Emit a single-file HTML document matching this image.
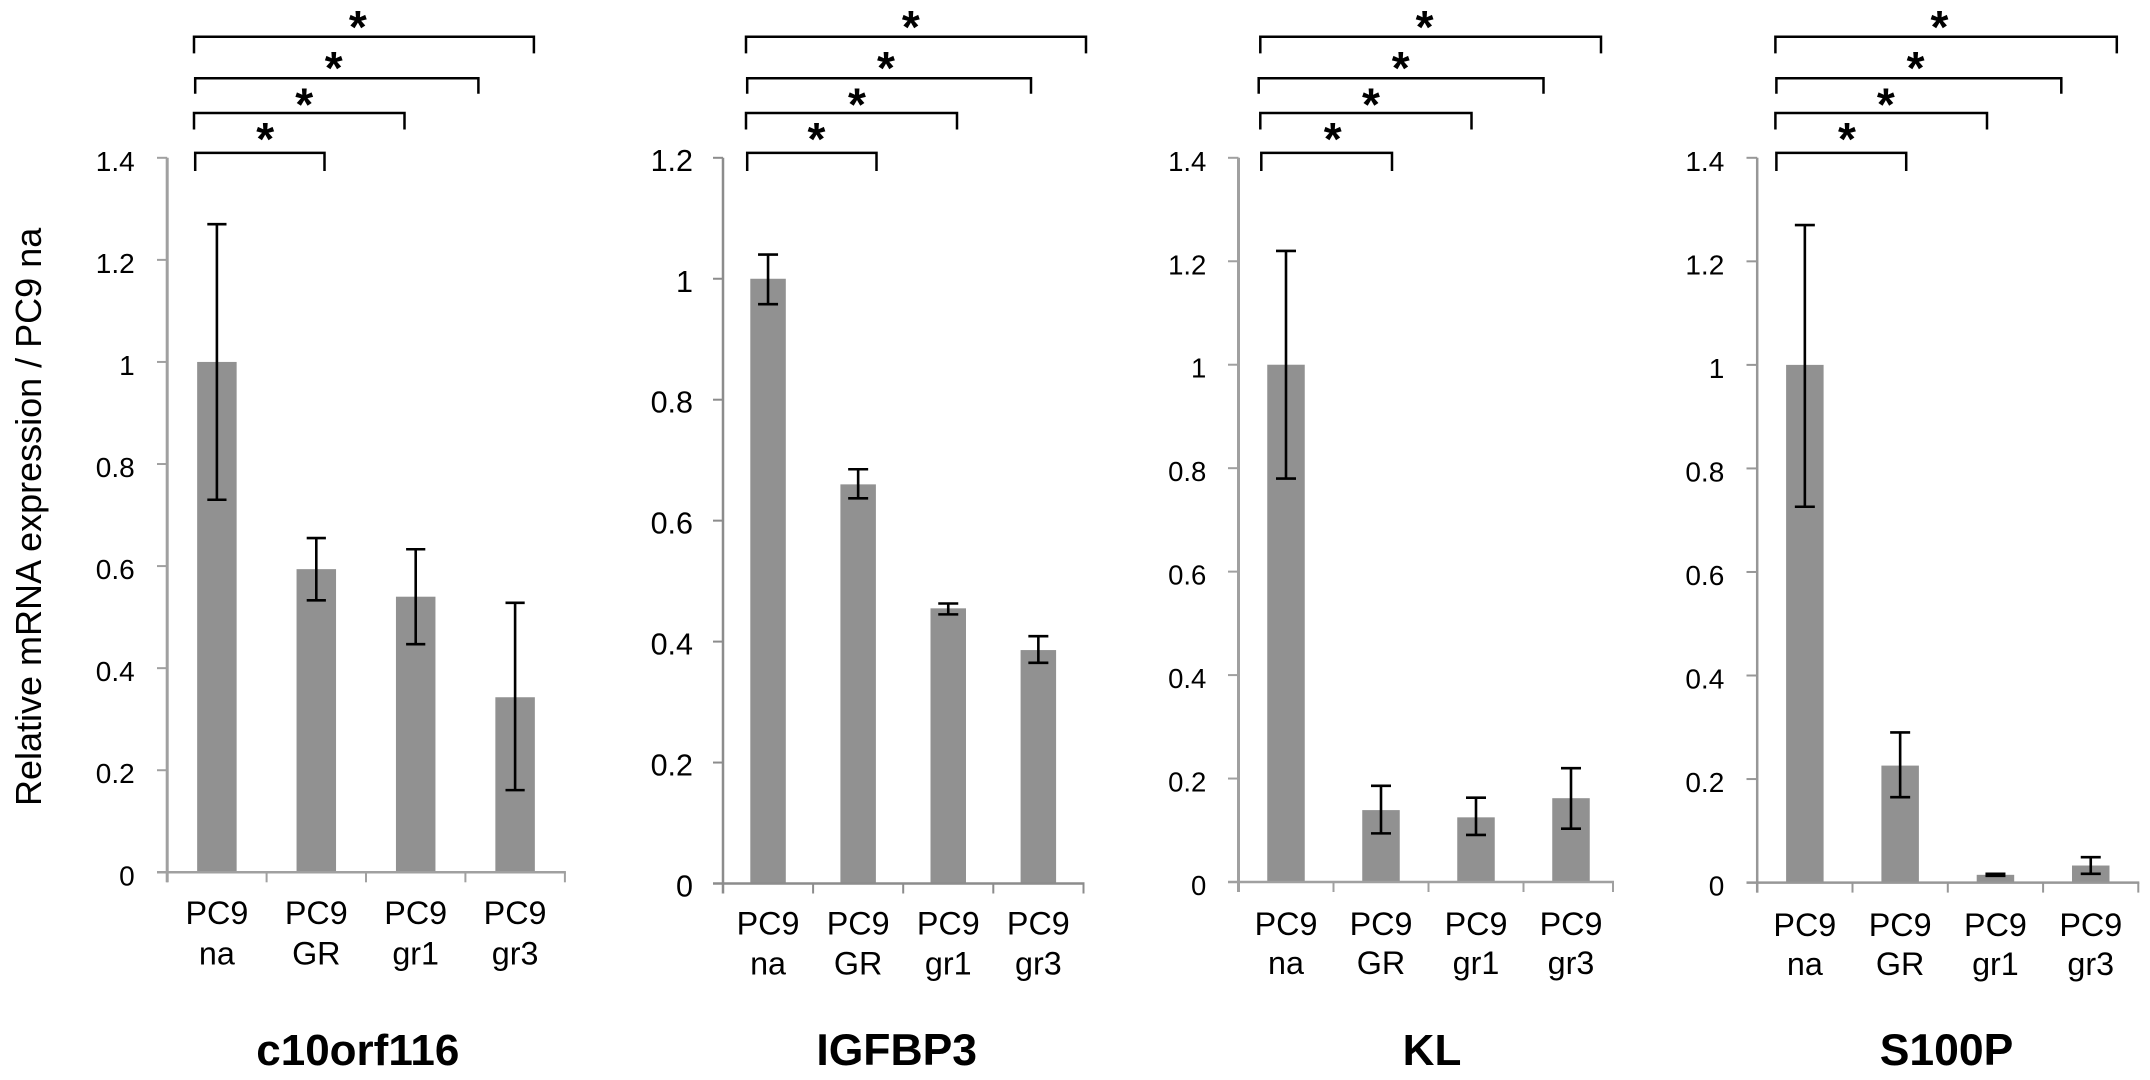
<!DOCTYPE html>
<html lang="en">
<head>
<meta charset="utf-8">
<title>Relative mRNA expression panels</title>
<style>
html,body{margin:0;padding:0;background:#fff;width:2150px;height:1080px;overflow:hidden}
svg{display:block;font-family:"Liberation Sans",Arial,sans-serif}
</style>
</head>
<body>
<svg id="figure" xmlns="http://www.w3.org/2000/svg" width="2150" height="1080" viewBox="0 0 2150 1080">
<rect width="2150" height="1080" fill="#ffffff"/>
<text transform="translate(41,806) rotate(-90)" font-size="36" fill="#000">Relative mRNA expression / PC9 na</text>
</svg>
<script>
const categories = [['PC9','na'],['PC9','GR'],['PC9','gr1'],['PC9','gr3']];
const ticksTo14 = ['0','0.2','0.4','0.6','0.8','1','1.2','1.4'];
const ticksTo12 = ['0','0.2','0.4','0.6','0.8','1','1.2'];

const c10orf116Values = [1, 0.594, 0.54, 0.343];
const c10orf116Upper = [1.27, 0.655, 0.633, 0.528];
const c10orf116Lower = [0.73, 0.533, 0.447, 0.161];

const igfbp3Values = [1, 0.66, 0.455, 0.386];
const igfbp3Upper = [1.04, 0.685, 0.463, 0.409];
const igfbp3Lower = [0.958, 0.637, 0.445, 0.365];

const klValues = [1, 0.139, 0.125, 0.162];
const klUpper = [1.22, 0.186, 0.163, 0.22];
const klLower = [0.78, 0.094, 0.091, 0.103];

const s100pValues = [1, 0.226, 0.015, 0.033];
const s100pUpper = [1.27, 0.29, 0.017, 0.049];
const s100pLower = [0.726, 0.165, 0.013, 0.017];

const panels = [
  {gene:'c10orf116', values:c10orf116Values, upper:c10orf116Upper, lower:c10orf116Lower, ticks:ticksTo14,
   layout:{left:167.2,right:564.9,band:99.4,top:157.8,zero:872.3,barW:39.5,capHalf:9.6,tickFont:28,labelRight:134.7,tickLeft:157,line1:924,line2:964.6,catFont:32.3,titleX:357.8,titleFont:44,axisColor:'#a0a0a0',axisW:3,
   brackets:[[195.2,324.5,265.2],[194,404.5,304.2],[195.2,478.4,333.7],[194,533.9,357.8]]}},
  {gene:'IGFBP3', values:igfbp3Values, upper:igfbp3Upper, lower:igfbp3Lower, ticks:ticksTo12,
   layout:{left:723,right:1083.5,band:90.1,top:157.8,zero:883.5,barW:35.5,capHalf:10,tickFont:30.5,labelRight:693,tickLeft:713,line1:934.3,line2:974.6,catFont:32.3,titleX:896.7,titleFont:44.5,axisColor:'#8c8c8c',axisW:2.5,
   brackets:[[747.2,876.5,816.4],[746,957,856.9],[747.2,1031,886],[746,1086,910.8]]}},
  {gene:'KL', values:klValues, upper:klUpper, lower:klLower, ticks:ticksTo14,
   layout:{left:1238.5,right:1613,band:95,top:157.8,zero:882,barW:37.5,capHalf:10,tickFont:27.5,labelRight:1206.3,tickLeft:1228,line1:935,line2:973.9,catFont:32.3,titleX:1432,titleFont:44,axisColor:'#a0a0a0',axisW:3,
   brackets:[[1261.3,1392,1332.7],[1260.3,1471.5,1371],[1258.7,1543.5,1400.7],[1260.3,1601,1424.6]]}},
  {gene:'S100P', values:s100pValues, upper:s100pUpper, lower:s100pLower, ticks:ticksTo14,
   layout:{left:1757.2,right:2138.3,band:95.3,top:157.8,zero:882.6,barW:37.5,capHalf:10,tickFont:28,labelRight:1724.3,tickLeft:1746.5,line1:936,line2:975,catFont:32.3,titleX:1946.5,titleFont:44.5,axisColor:'#979797',axisW:2.5,
   brackets:[[1776.4,1906.2,1847],[1775.4,1987,1885.8],[1776.4,2061.3,1915.6],[1775.4,2116.8,1939.4]]}}
];

const bracketRows = [
  {y:152.9,bottom:171,starY:129.2},
  {y:113,bottom:129.5,starY:94.8},
  {y:78.2,bottom:93.7,starY:58.2},
  {y:36.8,bottom:53.4,starY:17}
];

const svgNS = 'http://www.w3.org/2000/svg';
const root = document.getElementById('figure');

function make(parent, tag, attrs, text){
  const el = document.createElementNS(svgNS, tag);
  for (const k in attrs) el.setAttribute(k, attrs[k]);
  if (text !== undefined) el.textContent = text;
  parent.appendChild(el);
  return el;
}

panels.forEach(function(panel){
  const L = panel.layout;
  const yMax = Number(panel.ticks[panel.ticks.length - 1]);
  const yScale = function(v){ return L.zero - (v / yMax) * (L.zero - L.top); };
  const band = L.band;
  const xScale = function(i){ return L.left + (i + 0.5) * band; };

  const g = make(root, 'g', {});
  
  

  panel.values.forEach(function(v, i){
    const bar = make(g, 'rect', {x:xScale(i) - L.barW / 2, y:yScale(v), width:L.barW, height:L.zero - yScale(v), fill:'#919191'});
    
    
  });

  const yAxis = make(g, 'line', {x1:L.left, x2:L.left, y1:L.top, y2:L.zero + 10, stroke:L.axisColor, 'stroke-width':L.axisW});
  
  

  const xAxis = make(g, 'line', {x1:L.tickLeft, x2:L.right + 1, y1:L.zero, y2:L.zero, stroke:L.axisColor, 'stroke-width':2.5});
  
  

  panel.ticks.forEach(function(label){
    const y = yScale(Number(label));
    const tick = make(g, 'line', {x1:L.tickLeft, x2:L.left, y1:y, y2:y, stroke:L.axisColor, 'stroke-width':2});
    
    
    const t = make(g, 'text', {x:L.labelRight, y:y + 13, 'text-anchor':'end', 'font-size':L.tickFont, fill:'#000'}, label);
    
    
  });

  for (let i = 0; i <= categories.length; i++) {
    const x = i === categories.length ? L.right : L.left + i * band;
    const tick = make(g, 'line', {x1:x, x2:x, y1:L.zero, y2:L.zero + 10, stroke:L.axisColor, 'stroke-width':2});
    
    
  }

  categories.forEach(function(cat, i){
    const a = make(g, 'text', {x:xScale(i), y:L.line1, 'text-anchor':'middle', 'font-size':L.catFont, fill:'#000'}, cat[0]);
    
    
    const b = make(g, 'text', {x:xScale(i), y:L.line2, 'text-anchor':'middle', 'font-size':L.catFont, fill:'#000'}, cat[1]);
    
    
  });

  panel.values.forEach(function(v, i){
    const x = xScale(i);
    const yHi = yScale(panel.upper[i]);
    const yLo = yScale(panel.lower[i]);
    const d = 'M' + (x - L.capHalf) + ' ' + yHi + 'H' + (x + L.capHalf) + 'M' + x + ' ' + yHi + 'V' + yLo + 'M' + (x - L.capHalf) + ' ' + yLo + 'H' + (x + L.capHalf);
    const err = make(g, 'path', {d:d, fill:'none', stroke:'#000', 'stroke-width':2.6});
    
    
  });

  L.brackets.forEach(function(br, i){
    const row = bracketRows[i];
    const d = 'M' + br[0] + ' ' + row.bottom + 'V' + row.y + 'H' + br[1] + 'V' + row.bottom;
    const p = make(g, 'path', {d:d, fill:'none', stroke:'#000', 'stroke-width':2.5});
    
    
    const s = make(g, 'text', {x:br[2], y:row.starY + 25.8, 'text-anchor':'middle', 'font-size':46, 'font-weight':'bold', fill:'#000'}, '*');
    
    
  });

  const title = make(g, 'text', {x:L.titleX, y:1065, 'text-anchor':'middle', 'font-size':L.titleFont, 'font-weight':'bold', fill:'#000'}, panel.gene);
  
  
});
</script>
</body>
</html>
